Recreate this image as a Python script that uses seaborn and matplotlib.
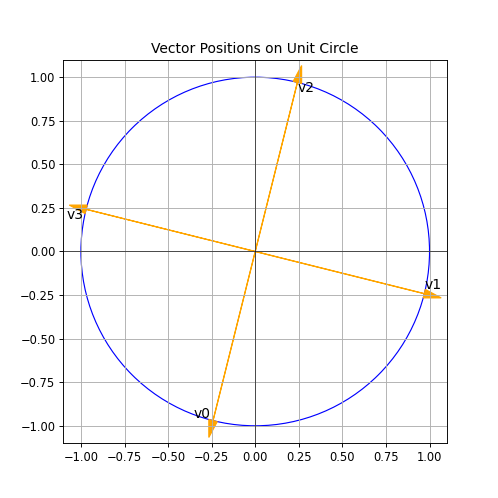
import matplotlib
matplotlib.use('Agg')
import matplotlib.pyplot as plt
import seaborn as sns

# vector end points
names = ['v0', 'v1', 'v2', 'v3']
vec_x = [-0.242, 0.970, 0.242, -0.970]
vec_y = [-0.970, -0.242, 0.970, 0.242]

# label anchors (left / baseline)
label_x = [-0.356, 0.971, 0.241, -1.08]
label_y = [-0.954, -0.213, 0.914, 0.184]


def main():
    sns.reset_orig()
    fig, ax = plt.subplots(figsize=(6, 6), dpi=83)

    circle = plt.Circle((0, 0), 1, color='blue', fill=False)
    ax.add_patch(circle)

    for x, y in zip(vec_x, vec_y):
        ax.arrow(0, 0, x, y, head_width=0.05, head_length=0.1,
                 fc='orange', ec='orange')

    for name, lx, ly in zip(names, label_x, label_y):
        ax.text(lx, ly, name, fontsize=12)

    ax.axhline(0, color='black', linewidth=0.5)
    ax.axvline(0, color='black', linewidth=0.5)
    ax.set_xlim(-1.1, 1.1)
    ax.set_ylim(-1.1, 1.1)
    ax.set_aspect('equal')
    ax.grid(True)
    ax.set_title('Vector Positions on Unit Circle')

    fig.savefig('out.png')
    plt.close(fig)


if __name__ == '__main__':
    main()
